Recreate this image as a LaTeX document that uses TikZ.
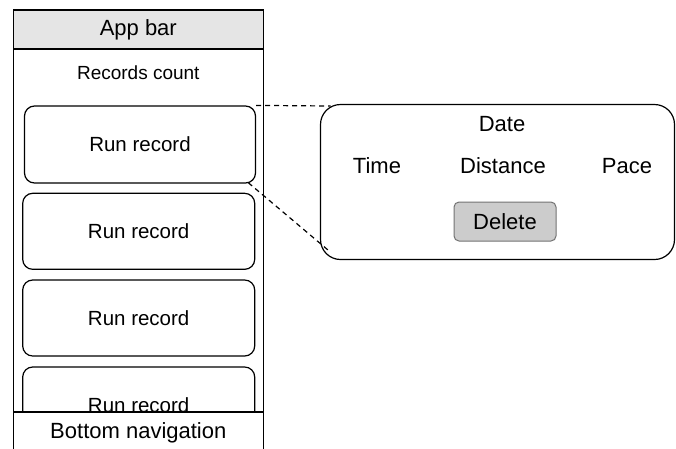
\documentclass[tikz,border=0pt]{standalone}
\usepackage{fontspec}
\setmainfont{Liberation Sans}

\begin{document}
\begin{tikzpicture}[x=1pt, y=-1pt,
		box/.style={draw, line width=1.2pt, inner sep=0pt},
		card/.style={box, fill=white, rounded corners=10pt, minimum width=232pt, minimum height=76pt, font=\fontsize{20.5}{24}\selectfont},
		lbl/.style={inner sep=0pt, font=\fontsize{22}{26}\selectfont},
		link/.style={line width=1.2pt, dash pattern=on 5pt off 4pt}]
		\useasboundingbox (0, 0) rectangle (676, 448);
		% phone screen
		\node[box, minimum width=250pt, minimum height=446pt] (screen) at (138.3, 233) {};
		\node[box, fill=black!10, minimum width=250pt, minimum height=39pt, lbl] (appbar) at (138.3, 29.5) {App bar};
		\node[inner sep=0pt, font=\fontsize{19}{22}\selectfont] (count) at (138.3, 73) {Records count};
		\node[card, minimum width=231pt, minimum height=77pt] (rec1) at (140, 144.5) {Run record};
		\node[card] (rec2) at (138.7, 231.3) {Run record};
		\node[card] (rec3) at (138.7, 318) {Run record};
		\node[card] (rec4) at (138.7, 405) {Run record};
		\node[box, fill=white, minimum width=250pt, minimum height=42pt, lbl] (bottomnav) at (138.3, 433) {};
		\node[lbl] (navtext) at (138.3, 433) {Bottom navigation};
		% expanded record
		\node[box, fill=white, rounded corners=20pt, minimum width=354pt, minimum height=155pt] (detail) at (497.5, 182) {};
		\node[lbl] (date) at (502, 124.5) {Date};
		\node[lbl] (time) at (377, 166) {Time};
		\node[lbl] (dist) at (503, 166) {Distance};
		\node[lbl] (pace) at (627, 166) {Pace};
		\node[draw=black!55, line width=1pt, fill=black!20, rounded corners=5pt, minimum width=102pt, minimum height=39pt, inner sep=0pt, lbl] (delete) at (505, 221.5) {Delete};
		\coordinate (c1) at (330.5, 106);
		\coordinate (c2) at (248.3, 182.7);
		\coordinate (c3) at (330, 251.7);
		\draw[link] (rec1.north east) -- (c1);
		\draw[link] (c2) -- (c3);
\end{tikzpicture}
\end{document}
